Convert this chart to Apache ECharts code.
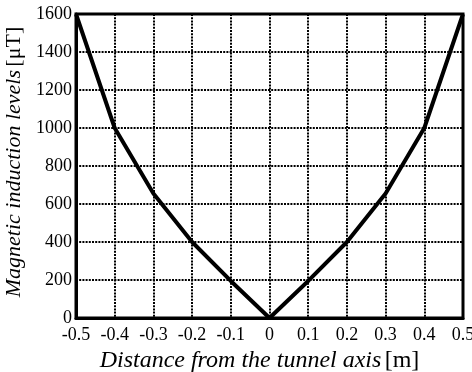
<!DOCTYPE html>
<html>
<head>
<meta charset="utf-8">
<script src="https://cdn.jsdelivr.net/npm/echarts@6/dist/echarts.min.js"></script>
<style>
  html, body { margin: 0; padding: 0; background: #fff; }
  #chart { width: 472px; height: 372px; }
</style>
</head>
<body>
<div id="chart"></div>
<script>
// Distance from the tunnel axis [m]
const distance = [-0.5, -0.4, -0.3, -0.2, -0.1, 0, 0.1, 0.2, 0.3, 0.4, 0.5];
// Magnetic induction levels [µT]
const induction = [1600, 1000, 655, 400, 195, 0, 195, 400, 655, 1000, 1600];
// Tick label lists
const xTicks = [-0.5, -0.4, -0.3, -0.2, -0.1, 0, 0.1, 0.2, 0.3, 0.4, 0.5];
const yTicks = [0, 200, 400, 600, 800, 1000, 1200, 1400, 1600];

const serif = '"Liberation Serif", "DejaVu Serif", serif';
const chart = echarts.init(document.getElementById('chart'), null, { renderer: 'canvas' });

chart.setOption({
  animation: false,
  backgroundColor: '#fff',
  grid: {
    left: 76, right: 9, top: 14, bottom: 54,
    outerBoundsMode: 'none', containLabel: false,
    show: true, borderColor: '#000', borderWidth: 3, backgroundColor: 'transparent'
  },
  xAxis: {
    type: 'value',
    min: xTicks[0], max: xTicks[xTicks.length - 1], interval: 0.1,
    axisLine: { show: true, onZero: false, lineStyle: { color: '#000', width: 3 } },
    axisTick: { show: false },
    axisLabel: {
      color: '#000', fontFamily: serif, fontSize: 18, margin: 8,
      formatter: v => {
        const r = Math.round(v * 10) / 10;
        return xTicks.includes(r) ? String(r) : '';
      }
    },
    splitLine: { show: true, lineStyle: { color: '#000', width: 2, type: [2, 1.2] } },
    name: '{i|Distance from the tunnel axis} {n|[m]}',
    nameLocation: 'middle', nameGap: 27,
    nameTextStyle: {
      padding: [0, 20, 0, 0],
      rich: {
        i: { fontFamily: serif, fontStyle: 'italic', fontSize: 24, color: '#000' },
        n: { fontFamily: serif, fontSize: 24, color: '#000' }
      }
    }
  },
  yAxis: {
    type: 'value',
    min: yTicks[0], max: yTicks[yTicks.length - 1], interval: 200,
    axisLine: { show: true, onZero: false, lineStyle: { color: '#000', width: 3 } },
    axisTick: { show: false },
    axisLabel: {
      color: '#000', fontFamily: serif, fontSize: 18, margin: 4,
      formatter: v => (yTicks.includes(v) ? String(v) : '')
    },
    splitLine: { show: true, lineStyle: { color: '#000', width: 2, type: [2, 1.2] } },
    name: '{i|Magnetic induction levels} {n|[μT]}',
    nameLocation: 'middle', nameGap: 39,
    nameTextStyle: {
      padding: [0, 0, 0, 8],
      rich: {
        i: { fontFamily: serif, fontStyle: 'italic', fontSize: 22, color: '#000' },
        n: { fontFamily: serif, fontSize: 22, color: '#000' }
      }
    }
  },
  series: [{
    type: 'line',
    data: distance.map((d, i) => [d, induction[i]]),
    showSymbol: false,
    smooth: false,
    clip: false,
    lineStyle: { color: '#000', width: 4 }
  }]
});
</script>
</body>
</html>
